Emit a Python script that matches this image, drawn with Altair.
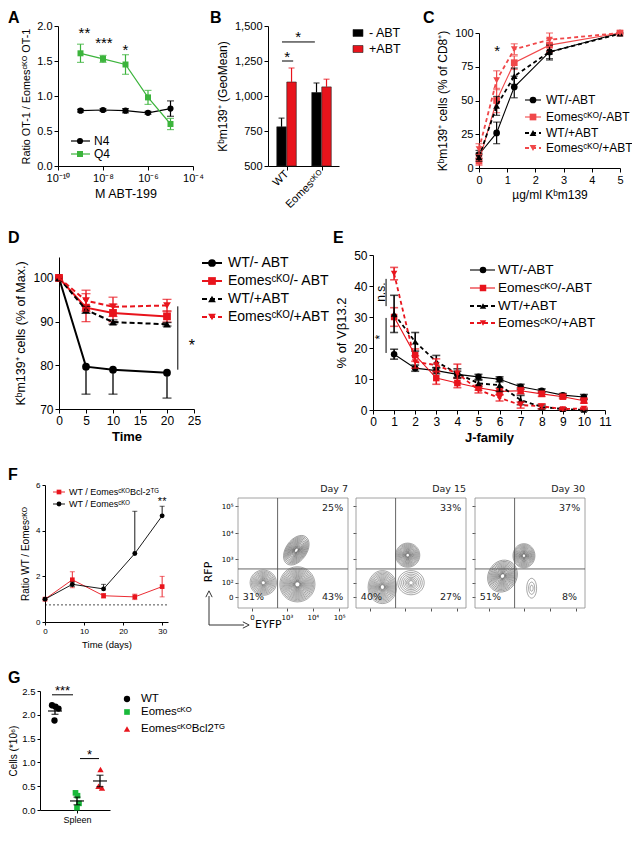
import altair as alt
import pandas as pd

# ---------------- canvas / styles ----------------
W, H = 624, 818
FONT = "Liberation Sans"
FFONT = "DejaVu Sans"
BLACK = "#000000"
RED = "#e8141c"
RED_C = "#f0484a"
GREEN_A = "#3cb43c"
GREEN_G = "#19b93a"

# ================= DATA =================
# --- A: ratio OT-1 / EomesCKO OT-1 vs ABT-199 (M)
A_conc = [1e-9, 1e-8, 1e-7, 1e-6, 1e-5]
A_N4 = [0.79, 0.80, 0.79, 0.76, 0.82]
A_N4_err = [0.02, 0.02, 0.03, 0.02, 0.11]
A_Q4 = [1.61, 1.53, 1.45, 0.98, 0.60]
A_Q4_err = [0.13, 0.05, 0.14, 0.10, 0.08]
A_star_txt = ["**", "***", "*"]
A_star_x = [1.5e-9, 1.1e-8, 1.0e-7]
A_star_y = [1.90, 1.76, 1.66]

# --- B: Kbm139+ GeoMean
B_groups = ["WT", "Eomesᶜᴷᴼ"]
B_treat = ["- ABT", "+ABT"]
B_minus = [780, 1025]
B_minus_err = [62, 68]
B_plus = [1100, 1065]
B_plus_err = [100, 55]
B_sig_x1 = [-0.13, -0.13]
B_sig_x2 = [0.19, 0.81]
B_sig_y = [1250, 1386]
B_star_x = [0.02, 0.33]
B_star_y = [1280, 1420]

# --- C: % Kbm139+ of CD8+ vs dose
C_dose = [0, 0.625, 1.25, 2.5, 5]
C_names = ["WT/-ABT", "Eomesᶜᴷᴼ/-ABT", "WT/+ABT", "Eomesᶜᴷᴼ/+ABT"]
C_vals = [[10, 26, 60, 86, 100], [5, 50, 78, 91, 100],
          [8, 46, 68, 86, 99.5], [14, 65, 88, 95, 100]]
C_errs = [[3, 8, 8, 6, 0], [3, 9, 5, 5, 0], [3, 7, 6, 5, 0], [4, 7, 4, 5, 0]]
C_star_x, C_star_y = [0.64], [87]

# --- D: % of max vs time
D_time = [0, 5, 10, 20]
D_names = ["WT/- ABT", "Eomesᶜᴷᴼ/- ABT", "WT/+ABT", "Eomesᶜᴷᴼ/+ABT"]
D_vals = [[100, 79.7, 79.0, 78.3], [100, 93.2, 92.0, 91.2],
          [100, 92.7, 89.9, 89.4], [100, 94.8, 93.4, 93.7]]
D_err_lo = [[0, 6.3, 5.6, 5.8], [0, 3.2, 2.0, 1.3], [0, 0.8, 0.5, 0.4], [0, 2.4, 2.2, 1.4]]
D_err_hi = [[0, 0, 0, 0], [0, 3.2, 2.0, 1.3], [0, 0.8, 0.5, 0.4], [0, 2.4, 2.2, 1.4]]
D_sig_x, D_sig_lo, D_sig_hi = [22], [79], [93.5]
D_star_x, D_star_y = [24.6], [84.5]

# --- E: % of Vb13.2 per J-family
E_j = [1, 2, 3, 4, 5, 6, 7, 8, 9, 10]
E_names = ["WT/-ABT", "Eomesᶜᴷᴼ/-ABT", "WT/+ABT", "Eomesᶜᴷᴼ/+ABT"]
E_vals = [[18, 13.5, 12.7, 11.5, 10.7, 9.9, 7.5, 6.2, 4.8, 4.2],
          [30, 17.7, 10.3, 8.7, 7.2, 6.0, 6.2, 5.2, 4.3, 3.0],
          [31, 22, 15.6, 11.8, 8.6, 8.0, 3.2, 1.0, 0.3, 0.0],
          [44, 15.5, 14.5, 11.8, 6.5, 3.9, 1.6, 1.2, 0.3, 0.5]]
E_errs = [[1.6, 1.0, 1.0, 1.0, 0.8, 0.8, 0.8, 0.6, 0.5, 0.8],
          [3.0, 2.0, 2.0, 1.5, 0.8, 1.0, 1.0, 0.8, 0.6, 0.8],
          [6.0, 3.0, 2.0, 1.5, 1.0, 2.0, 1.5, 0.6, 0.4, 0.3],
          [2.0, 2.0, 2.0, 3.0, 1.0, 1.0, 1.0, 0.8, 0.3, 0.3]]
E_sig_x = [0.62, 0.62]
E_sig_lo = [33.5, 18.4]
E_sig_hi = [42.3, 29.7]
E_sig_txt = ["n.s.", "*"]
E_sig_tx = [0.38, 0.33]
E_sig_ty = [38.0, 23.5]

# --- F: ratio WT / EomesCKO over time
F_days = [0, 7, 15, 23, 30]
F_names = ["WT / EomesᶜᴷᴼBcl-2ᵀᴳ", "WT / Eomesᶜᴷᴼ"]
F_red = [1.0, 1.85, 1.15, 1.1, 1.55]
F_red_err = [0, 0.35, 0.1, 0.12, 0.45]
F_blk = [1.0, 1.65, 1.45, 3.0, 4.65]
F_blk_lo = [0, 0.1, 0, 0, 0]
F_blk_hi = [0, 0.1, 0.2, 1.85, 0.42]
F_ref_y = [0.75]
F_star_x, F_star_y = [30], [5.25]

# --- F (flow): contour plots, RFP vs EYFP
FLOW_days = ["Day 7", "Day 15", "Day 30"]
FLOW_UR = ["25%", "33%", "37%"]
FLOW_LL = ["31%", "40%", "51%"]
FLOW_LR = ["43%", "27%", "8%"]
FLOW_gate_x = [36, 36, 36]
FLOW_gate_y = [35.5, 35.5, 35.5]
FLOW_pop_panel = [0, 0, 0, 1, 1, 1, 2, 2, 2]
FLOW_pop_cx = [53, 23, 54, 47, 24, 50, 44.5, 25, 51.5]
FLOW_pop_cy = [52.5, 23, 21.5, 48, 19, 23, 47.5, 29, 18]
FLOW_pop_rx = [9.5, 12, 16, 11, 13, 12, 10, 13, 4.5]
FLOW_pop_ry = [15, 11.5, 16, 11, 15, 11, 11, 15, 9]
FLOW_pop_tilt = [35, 0, 0, 0, 0, 0, 0, 30, 0]
FLOW_pop_rings = [15, 13, 18, 15, 15, 8, 15, 15, 3]
FLOW_xticks = [12.7, 44.5, 68, 92]
FLOW_yticks = [10, 23, 44.5, 68, 92.7]

# --- G: cells in spleen
G_names = ["WT", "Eomesᶜᴷᴼ", "EomesᶜᴷᴼBcl2ᵀᴳ"]
G_WT_x = [1.2, 1.55, 1.85, 1.45]
G_WT_y = [2.2, 2.17, 2.13, 1.88]
G_KO_x = [3.55, 3.75, 3.9, 3.7]
G_KO_y = [0.36, 0.30, 0.14, 0.05]
G_BC_x = [6.05, 5.85, 6.2]
G_BC_y = [0.85, 0.50, 0.46]
G_center = [1.5, 3.7, 6.0]
G_mean = [2.08, 0.19, 0.61]
G_sem = [0.07, 0.08, 0.12]
G_sig_x1 = [1.2, 4.0]
G_sig_x2 = [3.3, 5.9]
G_sig_y = [2.42, 1.08]
G_star_txt = ["***", "*"]
G_star_x = [2.25, 4.95]
G_star_y = [2.50, 1.16]

# ================= HELPERS =================
ONE = pd.DataFrame({"k": [0]})


def yaxis(xpos, **kw):
    d = dict(orient="left", offset=-xpos, grid=False, labelFlush=False,
             labelOverlap=False, tickSize=4, labelPadding=2, titlePadding=5)
    d.update(kw)
    return alt.Axis(**d)


def xaxis(ypos, **kw):
    d = dict(orient="bottom", offset=ypos - H, grid=False, labelFlush=False,
             labelOverlap=False, tickSize=4, labelPadding=2, titlePadding=4)
    d.update(kw)
    return alt.Axis(**d)


def lin(domain, rng):
    return alt.Scale(domain=domain, range=rng, nice=False, zero=False)


class Panel:
    def __init__(self, xs, ys, xax, yax):
        self.xs, self.ys, self.xax, self.yax = xs, ys, xax, yax
        self.layers = []

    def enc(self, xf, yf, **extra):
        e = dict(x=alt.X(xf, scale=self.xs, axis=self.xax),
                 y=alt.Y(yf, scale=self.ys, axis=self.yax))
        e.update(extra)
        return e

    def add(self, ch):
        self.layers.append(ch)

    def chart(self):
        return alt.layer(*self.layers)


def add_series(p, xv, vals, elo, ehi, color, shape, msize, lw, dash, ew, capw):
    df = pd.DataFrame({"x": xv, "v": vals,
                       "lo": [v - a for v, a in zip(vals, elo)],
                       "hi": [v + b for v, b in zip(vals, ehi)]})
    if lw:
        mk = dict(color=color, strokeWidth=lw)
        if dash:
            mk["strokeDash"] = dash
        p.add(alt.Chart(df).mark_line(**mk).encode(**p.enc("x:Q", "v:Q")))
    edf = df[df.hi > df.lo]
    if len(edf):
        p.add(alt.Chart(edf).mark_rule(color=color, strokeWidth=ew).encode(
            **p.enc("x:Q", "lo:Q", y2=alt.Y2("hi"))))
    cx, cy = [], []
    for x, v, a, b in zip(xv, vals, elo, ehi):
        if a > 0:
            cx.append(x); cy.append(v - a)
        if b > 0:
            cx.append(x); cy.append(v + b)
    if cx:
        cdf = pd.DataFrame({"x": cx, "c": cy})
        p.add(alt.Chart(cdf).mark_tick(color=color, orient="horizontal", size=capw,
                                       thickness=ew).encode(**p.enc("x:Q", "c:Q")))
    if shape:
        p.add(alt.Chart(df).mark_point(shape=shape, filled=True, size=msize, color=color,
                                       opacity=1).encode(**p.enc("x:Q", "v:Q")))


def add_text(p, xs_, ys_, texts, **mk):
    df = pd.DataFrame({"x": xs_, "y": ys_, "t": texts})
    p.add(alt.Chart(df).mark_text(**mk).encode(**p.enc("x:Q", "y:Q", text="t:N")))


def add_rules(p, x1, x2, y1, y2, **mk):
    df = pd.DataFrame({"x1": x1, "x2": x2, "y1": y1, "y2": y2})
    p.add(alt.Chart(df).mark_rule(**mk).encode(
        **p.enc("x1:Q", "y1:Q", x2=alt.X2("x2"), y2=alt.Y2("y2"))))


def ptext(x, y, text, **mk):
    return alt.Chart(ONE).mark_text(text=text, **mk).encode(x=alt.value(x), y=alt.value(y))


def prule(x1, y1, x2, y2, **mk):
    return alt.Chart(ONE).mark_rule(**mk).encode(
        x=alt.value(x1), y=alt.value(y1), x2=alt.value(x2), y2=alt.value(y2))


def ppoint(x, y, **mk):
    return alt.Chart(ONE).mark_point(**mk).encode(x=alt.value(x), y=alt.value(y))


def legend(entries, xl0, xl1, xm, xt, ys, fs):
    out = []
    for (label, color, shape, dash, lw, ms), y in zip(entries, ys):
        if lw:
            mk = dict(color=color, strokeWidth=lw)
            if dash:
                mk["strokeDash"] = dash
            out.append(prule(xl0, y, xl1, y, **mk))
        out.append(ppoint(xm, y, shape=shape, filled=True, size=ms, color=color, opacity=1))
        out.append(ptext(xt, y, label, align="left", baseline="middle", fontSize=fs))
    return out


panels = []
annot = []

# ================= PANEL A =================
pA = Panel(alt.Scale(type="log", domain=[1e-10, 1e-4], range=[50, 185], nice=False),
           lin([0, 2], [158, 18]),
           xaxis(158, values=[1e-10, 1e-8, 1e-6, 1e-4],
                 labelExpr="datum.value < 1e-9 ? '10⁻¹⁰' : datum.value < 1e-7 ? '10⁻⁸' : "
                           "datum.value < 1e-5 ? '10⁻⁶' : '10⁻⁴'",
                 title="M ABT-199", labelFontSize=11, titleFontSize=12.5),
           yaxis(50, values=[0, 0.5, 1, 1.5, 2], format=".1f",
                 title="Ratio OT-1 / Eomesᶜᴷᴼ OT-1", labelFontSize=11, titleFontSize=10.8))
add_series(pA, A_conc, A_N4, A_N4_err, A_N4_err, BLACK, "circle", 38, 1.2, None, 1.2, 7)
add_series(pA, A_conc, A_Q4, A_Q4_err, A_Q4_err, GREEN_A, "square", 36, 1.2, None, 1.2, 7)
add_text(pA, A_star_x, A_star_y, A_star_txt, fontSize=15, align="center", baseline="middle")
panels.append(pA)
annot += legend([("N4", BLACK, "circle", None, 1.2, 38), ("Q4", GREEN_A, "square", None, 1.2, 36)],
                63, 82, 72, 86, [133, 146], 12)

# ================= PANEL B =================
B_HW = 0.136
B_OFF = [-0.143, 0.143]
pB = Panel(lin([-0.53, 1.5], [260, 331]), lin([500, 1500], [158, 18]),
           xaxis(158, values=[0, 1], labelExpr="datum.value < 0.5 ? 'WT' : 'Eomesᶜᴷᴼ'",
                 labelAngle=315, labelAlign="right", labelBaseline="middle", title=None,
                 labelFontSize=11),
           yaxis(260, values=[500, 750, 1000, 1250, 1500], title="Kᵇm139⁺ (GeoMean)",
                 labelFontSize=11, titleFontSize=12))
for color, vals, errs, off in [(BLACK, B_minus, B_minus_err, B_OFF[0]),
                               (RED, B_plus, B_plus_err, B_OFF[1])]:
    xc = [g + off for g in range(len(B_groups))]
    df = pd.DataFrame({"x1": [c - B_HW for c in xc], "x2": [c + B_HW for c in xc],
                       "xc": xc, "v": vals, "hi": [v + e for v, e in zip(vals, errs)]})
    pB.add(alt.Chart(df).mark_bar(color=color, stroke="#222", strokeWidth=0.6).encode(
        **pB.enc("x1:Q", "v:Q", x2=alt.X2("x2"), y2=alt.datum(500))))
    pB.add(alt.Chart(df).mark_rule(color=color, strokeWidth=1.2).encode(
        **pB.enc("xc:Q", "v:Q", y2=alt.Y2("hi"))))
    pB.add(alt.Chart(df).mark_tick(color=color, orient="horizontal", size=6, thickness=1.2).encode(
        **pB.enc("xc:Q", "hi:Q")))
add_rules(pB, B_sig_x1, B_sig_x2, B_sig_y, B_sig_y, color=BLACK, strokeWidth=1)
add_text(pB, B_star_x, B_star_y, ["*", "*"], fontSize=15, align="center", baseline="middle")
panels.append(pB)
RECT = "M-1,-0.7H1V0.7H-1Z"
for (lab, col), y in zip([(B_treat[0], BLACK), (B_treat[1], RED)], [25, 41]):
    annot.append(ppoint(350, y, shape=RECT, filled=True, size=100, color=col, stroke="#222",
                        strokeWidth=0.6, opacity=1))
    annot.append(ptext(361, y, lab, align="left", baseline="middle", fontSize=12.5))

# ================= PANEL C =================
pC = Panel(lin([0, 5], [471, 612]), lin([0, 100], [160, 25]),
           xaxis(160, values=[0, 1, 2, 3, 4, 5], title="µg/ml Kᵇm139", labelFontSize=11,
                 titleFontSize=12),
           yaxis(471, values=[0, 25, 50, 75, 100], title="Kᵇm139⁺ cells (% of CD8⁺)",
                 labelFontSize=11, titleFontSize=12))
C_style = [(BLACK, "circle", None, 1.1), (RED_C, "square", None, 1.1),
           (BLACK, "triangle-up", [4, 3], 1.8), (RED_C, "triangle-down", [4, 3], 1.8)]
for vals, errs, (col, shp, dash, lw) in zip(C_vals, C_errs, C_style):
    add_series(pC, C_dose, vals, errs, errs, col, shp, 45, lw, dash, 1.2, 7)
add_text(pC, C_star_x, C_star_y, ["*"], fontSize=15, align="center", baseline="middle")
panels.append(pC)
annot += legend([(n, c, s, d, lw, 45) for n, (c, s, d, lw) in zip(C_names, C_style)],
                517, 533, 525, 538, [92, 109, 125, 140], 12)

# ================= PANEL D =================
pD = Panel(lin([0, 25], [51, 186]), lin([70, 104.8], [401, 249]),
           xaxis(401, values=[0, 5, 10, 15, 20, 25], title="Time", titleFontWeight="bold",
                 labelFontSize=12, titleFontSize=13),
           yaxis(51, values=[70, 80, 90, 100], title="Kᵇm139⁺ cells (% of Max.)",
                 labelFontSize=12, titleFontSize=12.5))
D_style = [(BLACK, "circle", None, 2.0), (RED, "square", None, 2.0),
           (BLACK, "triangle-up", [5, 3], 2.0), (RED, "triangle-down", [5, 3], 2.0)]
for vals, lo, hi, (col, shp, dash, lw) in zip(D_vals, D_err_lo, D_err_hi, D_style):
    add_series(pD, D_time, vals, lo, hi, col, shp, 60, lw, dash, 1.3, 9)
add_rules(pD, D_sig_x, D_sig_x, D_sig_lo, D_sig_hi, color=BLACK, strokeWidth=1)
add_text(pD, D_star_x, D_star_y, ["*"], fontSize=16, align="center", baseline="middle")
panels.append(pD)
annot += legend([(n, c, s, d, lw, 60) for n, (c, s, d, lw) in zip(D_names, D_style)],
                194, 214, 204, 220, [255, 273, 291, 309], 14)

# ================= PANEL E =================
pE = Panel(lin([0, 11], [365, 597]), lin([0, 50], [402, 247]),
           xaxis(402, values=list(range(12)), title="J-family", titleFontWeight="bold",
                 labelFontSize=12, titleFontSize=13),
           yaxis(365, values=[0, 10, 20, 30, 40, 50], title="% of Vβ13.2",
                 labelFontSize=12, titleFontSize=13))
E_style = [(BLACK, "circle", None, 1.1), (RED, "square", None, 1.1),
           (BLACK, "triangle-up", [4, 3], 1.8), (RED, "triangle-down", [4, 3], 1.8)]
for vals, errs, (col, shp, dash, lw) in zip(E_vals, E_errs, E_style):
    add_series(pE, E_j, vals, errs, errs, col, shp, 42, lw, dash, 1.6, 8)
add_rules(pE, E_sig_x, E_sig_x, E_sig_lo, E_sig_hi, color=BLACK, strokeWidth=1)
add_text(pE, E_sig_tx, E_sig_ty, E_sig_txt, fontSize=12, angle=270, align="center",
         baseline="middle")
panels.append(pE)
annot += legend([(n, c, s, d, lw, 42) for n, (c, s, d, lw) in zip(E_names, E_style)],
                462, 487, 475, 490, [262, 280, 298, 315], 13.5)

# ================= PANEL F (ratio) =================
pF = Panel(lin([0, 31.5], [37, 160]), lin([0, 6], [614, 477]),
           xaxis(614, values=[0, 10, 20, 30], title="Time (days)", labelFontSize=8,
                 titleFontSize=9.5, tickSize=3),
           yaxis(37, values=[0, 2, 4, 6], title="Ratio WT / Eomesᶜᴷᴼ", labelFontSize=8,
                 titleFontSize=10, tickSize=3))
F_ref = pd.DataFrame({"x1": [0], "x2": [31.5], "y": F_ref_y})
pF.add(alt.Chart(F_ref).mark_rule(color=BLACK, strokeWidth=0.7, strokeDash=[2, 2]).encode(
    **pF.enc("x1:Q", "y:Q", x2=alt.X2("x2"))))
add_series(pF, F_days, F_red, F_red_err, F_red_err, RED, "square", 22, 0.9, None, 0.9, 5)
add_series(pF, F_days, F_blk, F_blk_lo, F_blk_hi, BLACK, "circle", 24, 0.9, None, 0.9, 5)
add_text(pF, F_star_x, F_star_y, ["**"], fontSize=11, align="center", baseline="middle")
panels.append(pF)
annot += legend([(F_names[0], RED, "square", None, 0.9, 22),
                 (F_names[1], BLACK, "circle", None, 0.9, 24)],
                45, 57, 51, 61, [484, 496], 9)

# ================= PANEL F (flow contours) =================
FLOW_x0 = [230, 348, 467]
FLOW_SIZE = alt.Scale(type="linear", domain=[0, 10000], range=[0, 12100])
for i in range(3):
    x0 = FLOW_x0[i]
    lab = (i == 0)
    p = Panel(lin([0, 100], [x0, x0 + 110]), lin([0, 100], [600, 490]),
              xaxis(600, values=FLOW_xticks, labels=lab, domain=False, tickSize=3,
                    labelFontSize=7, labelFont=FFONT, title=None, tickColor="#555",
                    labelExpr="datum.value < 20 ? '0' : datum.value < 50 ? '10³' : "
                              "datum.value < 80 ? '10⁴' : '10⁵'"),
              yaxis(x0, values=FLOW_yticks, labels=lab, domain=False, tickSize=3,
                    labelFontSize=7, labelFont=FFONT, title=None, tickColor="#555",
                    labelExpr="datum.value < 15 ? '0' : datum.value < 30 ? '10²' : "
                              "datum.value < 50 ? '10³' : datum.value < 80 ? '10⁴' : '10⁵'"))
    frame = pd.DataFrame({"x1": [0], "x2": [100], "y1": [0], "y2": [100]})
    p.add(alt.Chart(frame).mark_rect(fillOpacity=0, stroke="#8a8a8a", strokeWidth=0.8).encode(
        **p.enc("x1:Q", "y1:Q", x2=alt.X2("x2"), y2=alt.Y2("y2"))))
    rows = []
    for pi, cx, cy, rx, ry, tilt, n in zip(FLOW_pop_panel, FLOW_pop_cx, FLOW_pop_cy,
                                           FLOW_pop_rx, FLOW_pop_ry, FLOW_pop_tilt,
                                           FLOW_pop_rings):
        if pi != i:
            continue
        a = ry / rx
        path = f"M-1,0A1,{a:.3f} 0 1,0 1,0A1,{a:.3f} 0 1,0 -1,0Z"
        for j in range(n):
            f = 0.12 + 0.88 * ((j + 1) / n) ** 1.4
            rows.append(dict(cx=cx, cy=cy, d2=(2 * rx * f) ** 2, path=path, ang=tilt))
    rdf = pd.DataFrame(rows)
    p.add(alt.Chart(rdf).mark_point(filled=False, color="#333333", strokeWidth=0.5,
                                    opacity=0.85).encode(
        **p.enc("cx:Q", "cy:Q",
                size=alt.Size("d2:Q", scale=FLOW_SIZE, legend=None),
                shape=alt.Shape("path:N", scale=None),
                angle=alt.Angle("ang:Q", scale=None))))
    add_rules(p, [FLOW_gate_x[i], 0], [FLOW_gate_x[i], 100], [0, FLOW_gate_y[i]],
              [100, FLOW_gate_y[i]], color="#555", strokeWidth=0.9)
    add_text(p, [86, 14, 86], [91, 10, 10], [FLOW_UR[i], FLOW_LL[i], FLOW_LR[i]],
             font=FFONT, fontSize=9.5, align="center", baseline="middle", color="#222")
    panels.append(p)
    annot.append(ptext(x0 + 110, 481, FLOW_days[i], font=FFONT, fontSize=9.5, align="right",
                       baseline="middle", color="#222"))

# axis arrows RFP / EYFP
annot.append(prule(201, 617, 201, 588, color="#333", strokeWidth=1))
annot.append(ppoint(201, 586, shape="M-1,1L0,-1L1,1", filled=False, size=40, color="#333",
                    strokeWidth=1, opacity=1))
annot.append(ptext(201, 564, "RFP", angle=270, align="center", baseline="middle", font=FFONT,
                   fontSize=11))
annot.append(prule(201, 617, 236, 617, color="#333", strokeWidth=1))
annot.append(ppoint(238, 617, shape="M-1,-1L1,0L-1,1", filled=False, size=40, color="#333",
                    strokeWidth=1, opacity=1))
annot.append(ptext(247, 617, "EYFP", align="left", baseline="middle", font=FFONT, fontSize=11))

# ================= PANEL G =================
pG = Panel(lin([0, 7], [32, 102]), lin([0, 2.5], [802, 683]),
           xaxis(802, values=[G_center[1]], labelExpr="'Spleen'", title=None, labelFontSize=9,
                 tickSize=3),
           yaxis(32, values=[0, 0.5, 1, 1.5, 2, 2.5], format=".1f", title="Cells (*10⁶)",
                 labelFontSize=9.5, titleFontSize=10, tickSize=3, titlePadding=3))
for xs_, ys_, col, shp, ms in [(G_WT_x, G_WT_y, BLACK, "circle", 40),
                                (G_KO_x, G_KO_y, GREEN_G, "square", 32),
                                (G_BC_x, G_BC_y, RED, "triangle-up", 40)]:
    df = pd.DataFrame({"x": xs_, "y": ys_})
    pG.add(alt.Chart(df).mark_point(shape=shp, filled=True, size=ms, color=col, opacity=1).encode(
        **pG.enc("x:Q", "y:Q")))
add_series(pG, G_center, G_mean, G_sem, G_sem, BLACK, None, 0, 0, None, 1.3, 7)
gm = pd.DataFrame({"x": G_center, "v": G_mean})
pG.add(alt.Chart(gm).mark_tick(color=BLACK, orient="horizontal", size=14, thickness=1.6).encode(
    **pG.enc("x:Q", "v:Q")))
add_rules(pG, G_sig_x1, G_sig_x2, G_sig_y, G_sig_y, color=BLACK, strokeWidth=1)
add_text(pG, G_star_x, G_star_y, G_star_txt, fontSize=13, align="center", baseline="middle")
panels.append(pG)
annot += legend([(G_names[0], BLACK, "circle", None, 0, 40),
                 (G_names[1], GREEN_G, "square", None, 0, 32),
                 (G_names[2], RED, "triangle-up", None, 0, 40)],
                0, 0, 119, 133, [691, 704, 721], 11.5)

# panel letters
for L, lx, ly in [("A", 0, 2), ("B", 202, 2), ("C", 415, 2), ("D", 0, 222), ("E", 325, 222),
                  ("F", 0, 459), ("G", 0, 662)]:
    annot.append(ptext(lx, ly, L, align="left", baseline="top", fontSize=16, fontWeight="bold"))

chart = alt.layer(*[p.chart() for p in panels], *annot).resolve_scale(
    x="independent", y="independent", size="independent"
).properties(
    width=W, height=H, padding=0, autosize=alt.AutoSizeParams(type="none")
).configure(font=FONT).configure_view(stroke="transparent").configure_axis(
    labelColor="#000", titleColor="#000", domainColor="#000", tickColor="#000",
    titleFontWeight="normal", labelFont=FONT, titleFont=FONT
).configure_text(font=FONT, color="#000")

chart.save("out.html", embed_options={"renderer": "svg", "actions": False})
